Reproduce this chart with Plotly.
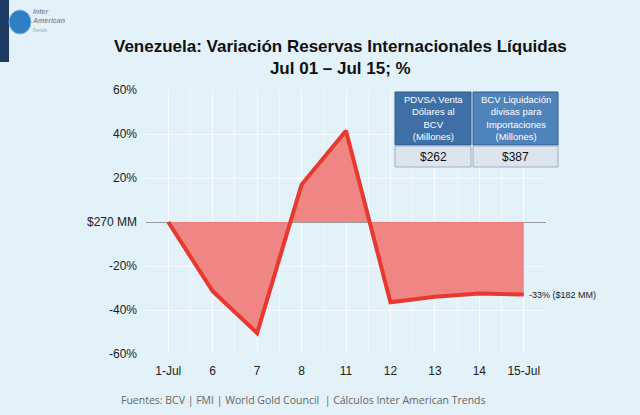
import plotly.graph_objects as go

categories = ["1-Jul", "6", "7", "8", "11", "12", "13", "14", "15-Jul"]
variation = [0, -31.5, -50.5, 17, 41.5, -36.5, -34, -32.5, -33]
y_tickvals = [60, 40, 20, 0, -20, -40, -60]
y_ticktext = ["60%", "40%", "20%", "$270 MM", "-20%", "-40%", "-60%"]
table_headers = ["PDVSA Venta<br>Dólares al<br>BCV<br>(Millones)",
                 "BCV Liquidación<br>divisas para<br>Importaciones<br>(Millones)"]
table_values = ["$262", "$387"]

xs = list(range(len(categories)))

fig = go.Figure()
fig.add_trace(go.Scatter(
    x=xs, y=variation, mode="lines", fill="tozeroy",
    fillcolor="rgba(239,122,117,0.9)",
    line=dict(color="#E8382F", width=4),
    hoverinfo="skip",
))

bg = "#E3F1F8"
grid = "rgba(255,255,255,0.5)"
fig.update_layout(
    width=640, height=415,
    paper_bgcolor=bg, plot_bgcolor=bg,
    margin=dict(l=146, r=94, t=90, b=61),
    showlegend=False,
    font=dict(family="Liberation Sans, Arial, sans-serif", color="#222", size=12),
)
fig.update_xaxes(
    range=[-0.5, len(categories) - 0.5],
    tickvals=xs, ticktext=categories, tickfont=dict(size=12),
    showgrid=True, gridcolor=grid, gridwidth=1,
    minor=dict(dtick=0.5, showgrid=True, gridcolor=grid),
    zeroline=False, showline=False, ticks="outside", ticklen=6,
    tickcolor="rgba(0,0,0,0)",
)
fig.update_yaxes(
    range=[-60, 60], tickvals=y_tickvals, ticktext=y_ticktext,
    tickfont=dict(size=12),
    showgrid=True, gridcolor="rgba(255,255,255,0.7)",
    zeroline=True, zerolinecolor="#9a9a9a", zerolinewidth=1,
    showline=False, ticks="", ticklabelstandoff=8,
)

def px_x(p):
    return (p - 146) / 400

def px_y(p):
    return (354 - p) / 264

# Title
fig.add_annotation(
    xref="paper", yref="paper", x=px_x(340), y=px_y(35),
    text="<b>Venezuela: Variación Reservas Internacionales Líquidas<br>Jul 01 – Jul 15; %</b>",
    showarrow=False, xanchor="center", yanchor="top",
    font=dict(size=17, color="#111", family="Liberation Sans, Arial, sans-serif"),
)

# End label
fig.add_annotation(
    x=xs[-1], y=variation[-1], xref="x", yref="y",
    text=f"{variation[-1]:.0f}% ($182 MM)", showarrow=False,
    xanchor="left", yanchor="middle", xshift=3,
    font=dict(size=9, color="#222"),
)

# Footer
fig.add_annotation(
    xref="paper", yref="paper", x=px_x(119), y=px_y(400),
    text="Fuentes: BCV | FMI | World Gold Council  | Cálculos Inter American Trends",
    showarrow=False, xanchor="left", yanchor="middle",
    font=dict(size=10.5, color="#666", family="Open Sans, sans-serif"),
)

# Table
cells = [(395, 471, "#3E6FA6"), (473, 558, "#4F83BC")]
for (x0, x1, col), head, val in zip(cells, table_headers, table_values):
    fig.add_shape(type="rect", xref="paper", yref="paper",
                  x0=px_x(x0), x1=px_x(x1), y0=px_y(145), y1=px_y(92),
                  fillcolor=col, line=dict(color="#2F5A8A", width=1), layer="above")
    fig.add_shape(type="rect", xref="paper", yref="paper",
                  x0=px_x(x0), x1=px_x(x1), y0=px_y(167), y1=px_y(146),
                  fillcolor="#DCE4EE", line=dict(color="#9FB0C6", width=1), layer="above")
    fig.add_annotation(xref="paper", yref="paper", x=px_x((x0 + x1) / 2), y=px_y(118.5),
                       text=head, showarrow=False, xanchor="center", yanchor="middle",
                       font=dict(size=9.5, color="white"), align="center")
    fig.add_annotation(xref="paper", yref="paper", x=px_x((x0 + x1) / 2), y=px_y(156.5),
                       text=val, showarrow=False, xanchor="center", yanchor="middle",
                       font=dict(size=12, color="#111"))

# Logo
fig.add_shape(type="rect", xref="paper", yref="paper",
              x0=px_x(0), x1=px_x(9), y0=px_y(62), y1=px_y(0),
              fillcolor="#1D3A63", line=dict(width=0), layer="above")
fig.add_shape(type="circle", xref="paper", yref="paper",
              x0=px_x(9), x1=px_x(31), y0=px_y(34), y1=px_y(10),
              fillcolor="#2E7FC4", line=dict(color="#7FB8E6", width=1), layer="above")
fig.add_annotation(xref="paper", yref="paper", x=px_x(30), y=px_y(16),
                   text="<i><b>Inter<br>American</b></i>", showarrow=False,
                   xanchor="left", yanchor="middle", align="left",
                   font=dict(size=7, color="#8A8F96"))
fig.add_annotation(xref="paper", yref="paper", x=px_x(30), y=px_y(30),
                   text="<i>Trends</i>", showarrow=False,
                   xanchor="left", yanchor="middle",
                   font=dict(size=5, color="#9AA"))

fig.write_html("out.html", config={"displayModeBar": False},
               post_script="document.body.style.margin='0';")
